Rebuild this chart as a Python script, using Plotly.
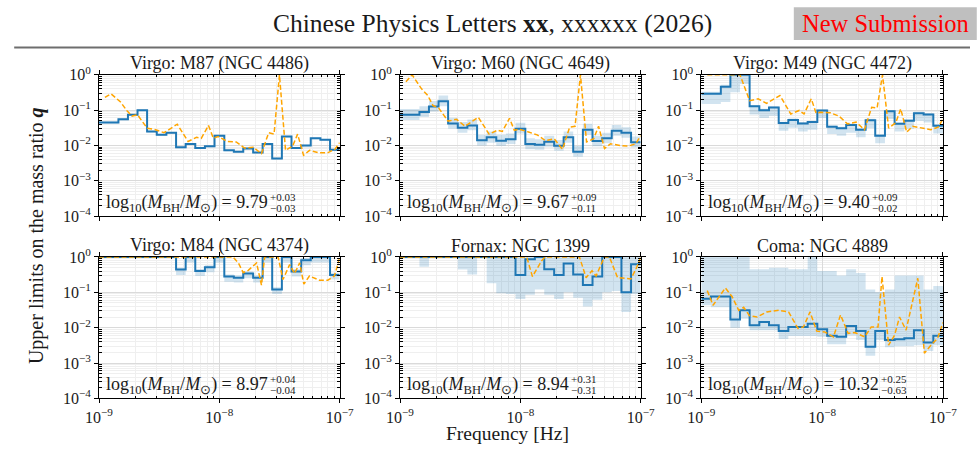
import plotly.graph_objects as go

# ---------------- data ----------------
# frequency bin edges [Hz] of the step curves
F_EDGES = [1.00e-9, 1.20e-9, 1.45e-9, 1.74e-9, 2.09e-9, 2.51e-9, 3.02e-9, 3.63e-9,
           4.37e-9, 5.25e-9, 6.31e-9, 7.59e-9, 9.12e-9, 1.10e-8, 1.32e-8, 1.58e-8,
           1.91e-8, 2.29e-8, 2.75e-8, 3.31e-8, 3.98e-8, 4.79e-8, 5.75e-8, 6.92e-8,
           8.32e-8, 1.00e-7]

TITLES = ["Virgo: M87 (NGC 4486)", "Virgo: M60 (NGC 4649)", "Virgo: M49 (NGC 4472)",
          "Virgo: M84 (NGC 4374)", "Fornax: NGC 1399", "Coma: NGC 4889"]
MASS = ["9.79", "9.67", "9.40", "8.97", "8.94", "10.32"]
MASS_UP = ["+0.03", "+0.09", "+0.09", "+0.04", "+0.31", "+0.25"]
MASS_DN = ["\u22120.03", "\u22120.11", "\u22120.02", "\u22120.04", "\u22120.31", "\u22120.63"]

# step upper limits (median mass), one value per bin
Q_M87 = [0.045, 0.045, 0.055, 0.074, 0.10, 0.025, 0.020, 0.023, 0.0089, 0.011, 0.0085, 0.0095,
         0.019, 0.0073, 0.0067, 0.0082, 0.0063, 0.011, 0.0043, 0.018, 0.0085, 0.010, 0.016,
         0.0145, 0.0076]
Q_M60 = [0.074, 0.074, 0.089, 0.126, 0.18, 0.042, 0.032, 0.037, 0.014, 0.017, 0.0137, 0.015,
         0.030, 0.011, 0.0105, 0.0128, 0.0099, 0.017, 0.0067, 0.028, 0.0134, 0.016, 0.026,
         0.023, 0.0123]
Q_M49 = [0.29, 0.29, 0.46, 1.0, 1.0, 0.13, 0.10, 0.118, 0.043, 0.053, 0.042, 0.046, 0.098,
         0.034, 0.031, 0.038, 0.028, 0.052, 0.019, 0.093, 0.041, 0.050, 0.082, 0.075, 0.036]
Q_M84 = [1.0, 1.0, 1.0, 1.0, 1.0, 1.0, 1.0, 1.0, 0.44, 1.0, 0.40, 0.51, 1.0, 0.28, 0.26,
         0.34, 0.26, 1.0, 0.12, 1.0, 0.39, 0.81, 1.0, 1.0, 0.31]
Q_N1399 = [1.0, 1.0, 1.0, 1.0, 1.0, 1.0, 1.0, 1.0, 1.0, 1.0, 1.0, 1.0, 0.31, 0.86, 1.0,
           0.45, 0.31, 0.65, 0.32, 0.16, 0.28, 1.0, 1.0, 0.10, 0.62]
Q_N4889 = [0.066, 0.076, 0.076, 0.017, 0.031, 0.0117, 0.0145, 0.0117, 0.0080, 0.0105, 0.0105,
           0.013, 0.0091, 0.0059, 0.0055, 0.0112, 0.0080, 0.0029, 0.0080, 0.0045, 0.0047,
           0.0050, 0.0085, 0.0038, 0.0059]

# band from the mass uncertainty: upper / lower edges per bin
HI_M87 = [0.048, 0.048, 0.058, 0.078, 0.105, 0.026, 0.021, 0.024, 0.0093, 0.0115, 0.0089,
          0.0099, 0.020, 0.0076, 0.0070, 0.0086, 0.0066, 0.0115, 0.0045, 0.019, 0.0089, 0.0105,
          0.0168, 0.0152, 0.0080]
LO_M87 = [0.042, 0.042, 0.052, 0.070, 0.094, 0.0235, 0.0188, 0.0216, 0.0084, 0.0103, 0.0080,
          0.0089, 0.0178, 0.0069, 0.0063, 0.0077, 0.0059, 0.0103, 0.0040, 0.0169, 0.0080,
          0.0094, 0.0150, 0.0136, 0.0071]
HI_M60 = [0.107, 0.107, 0.129, 0.183, 0.26, 0.061, 0.046, 0.054, 0.020, 0.025, 0.020, 0.022,
          0.044, 0.016, 0.015, 0.019, 0.0144, 0.025, 0.0097, 0.041, 0.019, 0.023, 0.038,
          0.033, 0.018]
LO_M60 = [0.053, 0.053, 0.064, 0.091, 0.13, 0.030, 0.023, 0.027, 0.010, 0.012, 0.0099, 0.011,
          0.022, 0.0079, 0.0076, 0.0092, 0.0071, 0.012, 0.0048, 0.020, 0.0096, 0.0115, 0.019,
          0.0166, 0.0089]
HI_M49 = [0.33, 0.33, 0.52, 1.0, 1.0, 0.14, 0.11, 0.13, 0.047, 0.058, 0.046, 0.050, 0.105,
          0.037, 0.034, 0.042, 0.031, 0.057, 0.021, 0.10, 0.045, 0.055, 0.090, 0.082, 0.040]
LO_M49 = [0.15, 0.15, 0.17, 0.32, 0.55, 0.075, 0.060, 0.070, 0.026, 0.032, 0.025, 0.028,
          0.060, 0.021, 0.019, 0.023, 0.017, 0.031, 0.0115, 0.056, 0.025, 0.030, 0.050,
          0.045, 0.022]
HI_M84 = [1.0, 1.0, 1.0, 1.0, 1.0, 1.0, 1.0, 1.0, 0.50, 1.0, 0.46, 0.58, 1.0, 0.32, 0.30,
          0.39, 0.30, 1.0, 0.14, 1.0, 0.45, 0.93, 1.0, 1.0, 0.36]
LO_M84 = [0.96, 0.96, 0.96, 0.96, 0.96, 0.96, 0.96, 0.96, 0.31, 0.70, 0.29, 0.37, 0.70, 0.20,
          0.19, 0.25, 0.19, 0.70, 0.09, 0.70, 0.28, 0.58, 0.70, 0.70, 0.23]
HI_N1399 = [1.0] * 25
LO_N1399 = [1.0, 1.0, 0.53, 1.0, 1.0, 1.0, 0.44, 0.32, 1.0, 0.18, 0.095, 0.09, 0.065, 0.085,
            0.12, 0.085, 0.065, 0.10, 0.07, 0.04, 0.062, 0.10, 0.11, 0.028, 0.09]
HI_N4889 = [1.0, 1.0, 1.0, 1.0, 1.0, 0.45, 0.45, 0.50, 0.50, 0.45, 0.45, 1.0, 0.40, 0.40,
            0.30, 0.45, 0.35, 0.12, 0.10, 0.12, 0.30, 0.30, 0.30, 0.12, 0.15]
LO_N4889 = [0.043, 0.038, 0.038, 0.010, 0.018, 0.0085, 0.0085, 0.0085, 0.0048, 0.0058,
            0.0058, 0.0058, 0.0055, 0.0034, 0.0034, 0.0060, 0.0045, 0.0016, 0.0045, 0.0028,
            0.0030, 0.0030, 0.0032, 0.0022, 0.0032]

# dashed (orange) curves
F_DASH = [1.12e-9, 1.26e-9, 1.51e-9, 1.70e-9, 1.88e-9, 2.09e-9, 2.51e-9, 2.95e-9, 3.47e-9,
          4.47e-9, 5.50e-9, 6.46e-9, 7.08e-9, 8.13e-9, 8.91e-9, 9.77e-9, 1.17e-8, 1.38e-8,
          1.62e-8, 1.91e-8, 2.24e-8, 2.57e-8, 2.85e-8, 3.16e-8, 3.55e-8, 4.07e-8, 4.47e-8,
          5.01e-8, 5.62e-8, 6.76e-8, 7.94e-8, 9.12e-8, 1.00e-7]
D_M87 = [0.23, 0.29, 0.17, 0.098, 0.068, 0.074, 0.031, 0.028, 0.023, 0.040, 0.013, 0.017,
         0.016, 0.037, 0.016, 0.018, 0.013, 0.0126, 0.0085, 0.0089, 0.0059, 0.023, 0.021, 1.0,
         0.0073, 0.0097, 0.021, 0.0053, 0.0073, 0.0062, 0.0062, 0.0078, 0.012]
D_M60 = [0.64, 1.0, 0.40, 0.26, 0.135, 0.116, 0.049, 0.055, 0.035, 0.063, 0.021, 0.027,
         0.025, 0.059, 0.027, 0.029, 0.024, 0.020, 0.0137, 0.0156, 0.0078, 0.033, 0.035, 1.0,
         0.0126, 0.0156, 0.035, 0.0082, 0.0112, 0.010, 0.0097, 0.0112, 0.019]
D_M49 = [1.0, 1.0, 1.0, 1.0, 1.0, 1.0, 0.185, 0.21, 0.156, 0.26, 0.078, 0.098, 0.078, 0.21,
         0.082, 0.087, 0.084, 0.068, 0.041, 0.046, 0.028, 0.12, 0.115, 1.0, 0.031, 0.044,
         0.109, 0.024, 0.035, 0.031, 0.028, 0.033, 0.057]
F_DASH_M84 = [1.00e-9, 1.30e-8, 1.44e-8, 1.58e-8, 1.74e-8, 2.04e-8, 2.24e-8, 2.38e-8, 3.08e-8,
              3.38e-8, 3.84e-8, 4.22e-8, 4.65e-8, 5.04e-8, 5.61e-8, 6.79e-8, 7.96e-8, 9.04e-8,
              1.00e-7]
D_M84 = [1.0, 1.0, 0.68, 0.36, 0.42, 0.68, 0.16, 1.0, 1.0, 0.23, 0.61, 0.34, 0.68, 0.17, 0.29,
         0.22, 0.22, 0.29, 0.94]
F_DASH_N1399 = [1.00e-9, 1.13e-8, 1.26e-8, 1.50e-8, 1.60e-8, 3.10e-8, 3.52e-8, 3.94e-8,
                4.26e-8, 4.99e-8, 5.50e-8, 6.43e-8, 8.28e-8, 9.12e-8, 1.00e-7]
D_N1399 = [1.0, 1.0, 0.28, 0.77, 1.0, 1.0, 0.26, 0.41, 0.29, 1.0, 1.0, 0.26, 0.24, 0.45, 0.96]
F_DASH_N4889 = [1.12e-9, 1.25e-9, 1.58e-9, 1.80e-9, 2.04e-9, 2.24e-9, 2.50e-9, 2.89e-9,
                3.49e-9, 4.37e-9, 5.27e-9, 6.31e-9, 7.00e-9, 7.94e-9, 9.02e-9, 1.05e-8,
                1.24e-8, 1.42e-8, 1.64e-8, 1.86e-8, 2.25e-8, 2.55e-8, 2.90e-8, 3.13e-8,
                3.55e-8, 3.98e-8, 4.37e-8, 4.95e-8, 6.19e-8, 7.02e-8, 7.94e-8, 9.02e-8, 1.00e-7]
D_N4889 = [0.112, 0.043, 0.133, 0.075, 0.031, 0.038, 0.022, 0.020, 0.028, 0.031, 0.028,
           0.0095, 0.0105, 0.028, 0.0080, 0.0076, 0.0055, 0.023, 0.0069, 0.0073, 0.0055,
           0.0105, 0.0105, 0.28, 0.0032, 0.0062, 0.020, 0.0085, 0.25, 0.0019, 0.0032, 0.005,
           0.014]

X_TICKS = [1e-9, 1e-8, 1e-7]
X_TICKTEXT = ["10<sup>\u22129</sup>", "10<sup>\u22128</sup>", "10<sup>\u22127</sup>"]
Y_TICKS = [1e-4, 1e-3, 1e-2, 1e-1, 1.0]
Y_TICKTEXT = ["10<sup>\u22124</sup>", "10<sup>\u22123</sup>", "10<sup>\u22122</sup>",
              "10<sup>\u22121</sup>", "10<sup>0</sup>"]

STEP = [Q_M87, Q_M60, Q_M49, Q_M84, Q_N1399, Q_N4889]
HI = [HI_M87, HI_M60, HI_M49, HI_M84, HI_N1399, HI_N4889]
LO = [LO_M87, LO_M60, LO_M49, LO_M84, LO_N1399, LO_N4889]
DASH_F = [F_DASH, F_DASH, F_DASH, F_DASH_M84, F_DASH_N1399, F_DASH_N4889]
DASH_Q = [D_M87, D_M60, D_M49, D_M84, D_N1399, D_N4889]

# ---------------- style ----------------
PAD = 8                        # page body margin around the figure
W, H = 984, 474                # figure size; page = (W + 2*PAD) x (H + 2*PAD)
SX = 977 / (W + 2 * PAD)       # page is photographed scaled to 977 x 474
SY = 474 / (H + 2 * PAD)


def px(sx):                    # target screen x -> paper fraction
    return (sx / SX - PAD) / W


def py(sy):                    # target screen y (from top) -> paper fraction
    return 1 - (sy / SY - PAD) / H


FONT = "Liberation Serif, Times New Roman, serif"
TXT = "#1a1a1a"
BLUE = "#1f77b4"
BAND = "rgba(31,119,180,0.2)"
ORANGE = "#ffa500"

COL_PX = [(93.3, 335.3), (396.0, 638.0), (699.0, 942.0)]
ROW_PX = [(72.0, 215.0), (256.0, 399.0)]

minor_x = [m * 10.0 ** e for e in (-9, -8) for m in range(2, 10)]
minor_y = [m * 10.0 ** e for e in (-4, -3, -2, -1) for m in range(2, 10)]

fig = go.Figure()
layout = dict(width=W, height=H, margin=dict(l=0, r=0, t=0, b=0), autosize=False,
              paper_bgcolor="white", plot_bgcolor="white", showlegend=False,
              font=dict(family=FONT, color=TXT, size=16))
annotations = []

for i in range(6):
    r, c = divmod(i, 3)
    xa = "x" if i == 0 else f"x{i+1}"
    ya = "y" if i == 0 else f"y{i+1}"
    xk = "xaxis" if i == 0 else f"xaxis{i+1}"
    yk = "yaxis" if i == 0 else f"yaxis{i+1}"
    x0, x1 = COL_PX[c]
    y0, y1 = ROW_PX[r]
    layout[xk] = dict(
        domain=[px(x0), px(x1)], anchor=ya, type="log", range=[-9, -7],
        showline=True, linecolor="black", linewidth=1, mirror="ticks",
        ticks="outside", ticklen=4, tickcolor="black", tickwidth=1,
        tickmode="array", tickvals=X_TICKS, ticktext=X_TICKTEXT,
        showticklabels=(r == 1), tickfont=dict(size=16, family=FONT, color=TXT),
        showgrid=True, gridcolor="#dadada", gridwidth=0.8, zeroline=False,
        minor=dict(tickmode="array", tickvals=minor_x, ticks="inside", ticklen=2.5,
                   tickcolor="black", tickwidth=0.7, showgrid=True,
                   gridcolor="#efefef", gridwidth=0.6),
    )
    layout[yk] = dict(
        domain=[py(y1), py(y0)], anchor=xa, type="log", range=[-4, 0.005],
        showline=True, linecolor="black", linewidth=1, mirror="ticks",
        ticks="outside", ticklen=4, tickcolor="black", tickwidth=1,
        tickmode="array", tickvals=Y_TICKS, ticktext=Y_TICKTEXT,
        tickfont=dict(size=16, family=FONT, color=TXT),
        showgrid=True, gridcolor="#dadada", gridwidth=0.8, zeroline=False,
        minor=dict(tickmode="array", tickvals=minor_y, ticks="inside", ticklen=2.5,
                   tickcolor="black", tickwidth=0.7, showgrid=True,
                   gridcolor="#efefef", gridwidth=0.6),
    )

    step_y = STEP[i] + [STEP[i][-1]]
    lo_y = LO[i] + [LO[i][-1]]
    hi_y = HI[i] + [HI[i][-1]]
    fig.add_trace(go.Scatter(x=F_EDGES, y=lo_y, mode="lines", line=dict(width=0, shape="hv"),
                             xaxis=xa, yaxis=ya, hoverinfo="skip"))
    fig.add_trace(go.Scatter(x=F_EDGES, y=hi_y, mode="lines", line=dict(width=0, shape="hv"),
                             fill="tonexty", fillcolor=BAND, xaxis=xa, yaxis=ya,
                             hoverinfo="skip"))
    fig.add_trace(go.Scatter(x=F_EDGES, y=step_y, mode="lines",
                             line=dict(color=BLUE, width=2, shape="hv"), xaxis=xa, yaxis=ya))
    fig.add_trace(go.Scatter(x=DASH_F[i], y=DASH_Q[i], mode="lines",
                             line=dict(color=ORANGE, width=1.5, dash="5px,2.5px"),
                             xaxis=xa, yaxis=ya))

    # panel title
    annotations.append(dict(text=TITLES[i], xref="paper", yref="paper",
                            x=px((x0 + x1) / 2), y=py(y0 - 11),
                            xanchor="center", yanchor="middle", showarrow=False,
                            font=dict(size=18, family=FONT, color=TXT)))
    # mass label
    main = ("log<sub>10</sub>(<i>M</i><sub>BH</sub>/<i>M</i><sub>\u2299</sub>) = "
            + MASS[i])
    annotations.append(dict(text=main, xref=f"{xa} domain", yref=f"{ya} domain",
                            x=0, y=0, xanchor="left", yanchor="middle", xshift=5, yshift=13,
                            align="left", showarrow=False,
                            font=dict(size=18, family=FONT, color=TXT)))
    wmain = 164 if len(MASS[i]) == 4 else 173
    for txt, dy in ((MASS_UP[i], 19), (MASS_DN[i], 8.5)):
        annotations.append(dict(text=txt, xref=f"{xa} domain", yref=f"{ya} domain",
                                x=0, y=0, xanchor="left", yanchor="middle",
                                xshift=5 + wmain, yshift=dy, showarrow=False, align="left",
                                font=dict(size=11, family=FONT, color=TXT)))

# header
annotations.append(dict(text="Chinese Physics Letters <b>xx</b>, xxxxxx (2026)",
                        xref="paper", yref="paper", x=px(489), y=py(20),
                        xanchor="center", yanchor="middle", showarrow=False,
                        font=dict(size=25.5, family=FONT, color=TXT)))
annotations.append(dict(text="New Submission", xref="paper", yref="paper",
                        x=px(884), y=py(20), xanchor="center", yanchor="middle",
                        showarrow=False, font=dict(size=24.5, family=FONT, color="#ff0000")))
# axis titles
annotations.append(dict(text="Frequency [Hz]", xref="paper", yref="paper",
                        x=px(504), y=py(434), xanchor="center", yanchor="middle",
                        showarrow=False, font=dict(size=19.5, family=FONT, color=TXT)))
annotations.append(dict(text="Upper limits on the mass ratio <b><i>q</i></b>",
                        xref="paper", yref="paper", x=px(30), y=py(235),
                        xanchor="center", yanchor="middle", textangle=-90, showarrow=False,
                        font=dict(size=20, family=FONT, color=TXT)))

layout["annotations"] = annotations
layout["shapes"] = [
    dict(type="rect", xref="paper", yref="paper", x0=px(792), x1=px(976),
         y0=py(37), y1=py(4), fillcolor="#bfbfbf", line=dict(width=0), layer="below"),
    dict(type="line", xref="paper", yref="paper", x0=px(8), x1=1.0, y0=py(44.5),
         y1=py(44.5), line=dict(color="#6e6e6e", width=2)),
]
fig.update_layout(**layout)
fig.write_html("out.html")
